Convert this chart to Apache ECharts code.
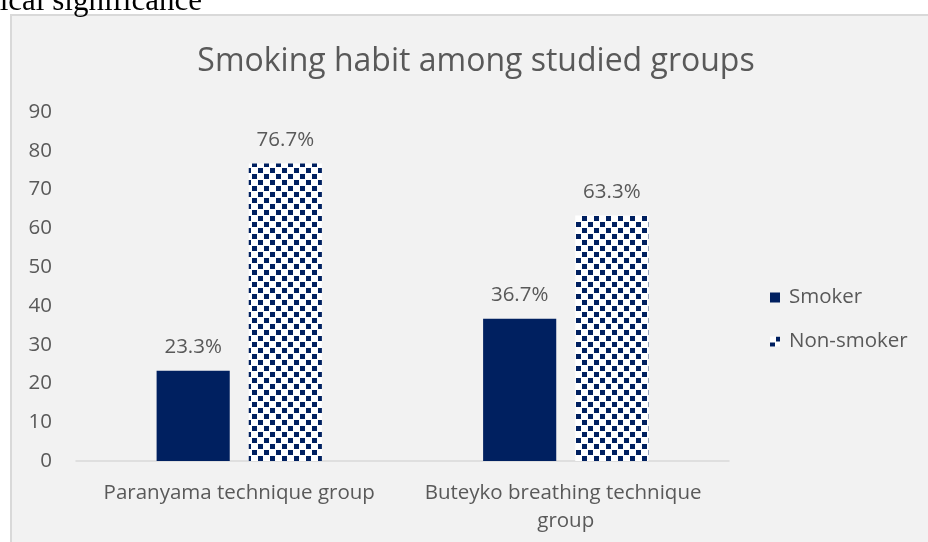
<!DOCTYPE html>
<html>
<head>
<meta charset="utf-8">
<script src="https://cdn.jsdelivr.net/npm/echarts@6/dist/echarts.min.js"></script>
<style>
html,body{margin:0;padding:0;background:#fff;}
#c{width:928px;height:542px;}
</style>
</head>
<body>
<div id="c"></div>
<script>
const categories = ['Paranyama technique group', 'Buteyko breathing technique group'];
const smoker = [23.3, 36.7];
const nonSmoker = [76.7, 63.3];
const seriesNames = ['Smoker', 'Non-smoker'];
const yTicks = [0, 10, 20, 30, 40, 50, 60, 70, 80, 90];
const titleText = 'Smoking habit among studied groups';
const aboveText = 'statistical significance';

const FONT = 'Open Sans';
const GREY = '#595959';
const NAVY = '#002060';
const FS = 20.5;

const chart = echarts.init(document.getElementById('c'), null, {renderer: 'canvas'});
chart.setOption({
  backgroundColor: '#fff',
  animation: false,
  graphic: [
    {type: 'rect', z: -10, shape: {x: 11, y: 15, width: 940, height: 560},
     style: {fill: '#f2f2f2', stroke: '#d9d9d9', lineWidth: 2}},
    {type: 'text', x: 202, y: 2, style: {text: aboveText, font: '31px "Liberation Serif"', fill: '#000', textAlign: 'right', textVerticalAlign: 'middle'}},
    {type: 'text', x: 476, y: 62, style: {text: titleText, font: '32px "' + FONT + '"', fill: GREY, textAlign: 'center', textVerticalAlign: 'middle'}}
  ],
  grid: {left: 76, right: 199, top: 112, bottom: 81, containLabel: false},
  legend: {
    orient: 'vertical', left: 765, top: 282, itemWidth: 10, itemHeight: 10, icon: 'rect', itemGap: 23,
    textStyle: {fontFamily: FONT, fontSize: FS, color: GREY, padding: [0, 0, 0, 4]},
    data: seriesNames
  },
  xAxis: {
    type: 'category', data: categories,
    axisLine: {lineStyle: {color: '#d9d9d9', width: 1.5}},
    axisTick: {show: false},
    axisLabel: {fontFamily: FONT, fontSize: FS, color: GREY, margin: 18, width: 320, overflow: 'break', lineHeight: 28, interval: 0}
  },
  yAxis: {
    type: 'value', min: yTicks[0], max: yTicks[yTicks.length - 1], interval: 10,
    axisLine: {show: false}, axisTick: {show: false}, splitLine: {show: false},
    axisLabel: {fontFamily: FONT, fontSize: FS, color: GREY, margin: 24}
  },
  series: [
    {name: seriesNames[0], type: 'bar', data: smoker, barWidth: '22.4%', barGap: '26%',
     itemStyle: {color: NAVY},
     label: {show: true, position: 'top', distance: 13, formatter: '{c}%', fontFamily: FONT, fontSize: FS, color: GREY}},
    {name: seriesNames[1], type: 'bar', data: nonSmoker, barWidth: '22.4%',
     itemStyle: {color: '#ffffff', decal: {symbol: 'rect', color: NAVY, symbolSize: 1, dashArrayX: [[4.5, 6.5], [0, 5.5, 4.5, 1]], dashArrayY: [4.5, 1]}},
     label: {show: true, position: 'top', distance: 13, formatter: '{c}%', fontFamily: FONT, fontSize: FS, color: GREY}}
  ]
});
</script>
</body>
</html>
